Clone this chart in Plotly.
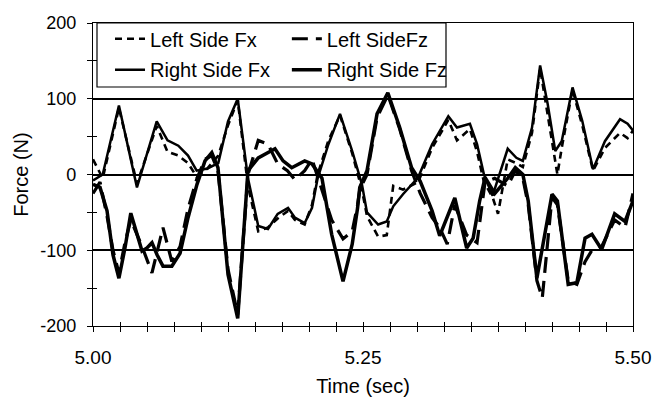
import plotly.graph_objects as go

# ---- data ----
rfx_t = [5.000, 5.009, 5.024, 5.0407, 5.059, 5.069, 5.079, 5.088, 5.096, 5.106, 5.116, 5.125, 5.134,
         5.1435, 5.153, 5.162, 5.171, 5.1806, 5.187, 5.196, 5.2028, 5.208, 5.218, 5.2287, 5.240, 5.249,
         5.2537, 5.264, 5.272, 5.278, 5.287, 5.301, 5.314, 5.329, 5.337, 5.349, 5.3556, 5.362, 5.370,
         5.384, 5.392, 5.398, 5.4065, 5.414, 5.421, 5.428, 5.434, 5.444, 5.453, 5.463, 5.474, 5.488,
         5.495, 5.500]
rfx_v = [-8, 0, 91, -17, 70, 45, 38, 25, 5, 8, 15, 70, 100,
         -5, -68, -72, -52, -44, -57, -64, -44, -5, 40, 80, 31, -13,
         -50, -66, -62, -42, -26, -4, 40, 77, 62, 67, 40, 0, -28,
         34, 22, 18, 62, 144, 93, 31, 44, 115, 71, 7, 44, 73,
         67, 58]

rfz_t = [5.000, 5.0065, 5.013, 5.0185, 5.024, 5.0296, 5.035, 5.0454, 5.050, 5.0546, 5.0593, 5.0648,
         5.073, 5.0806, 5.088, 5.0963, 5.1037, 5.110, 5.1157, 5.125, 5.134, 5.1435, 5.153, 5.1685,
         5.176, 5.184, 5.196, 5.2028, 5.212, 5.221, 5.2315, 5.240, 5.245, 5.247, 5.2537, 5.263, 5.273,
         5.284, 5.295, 5.303, 5.314, 5.321, 5.335, 5.346, 5.352, 5.358, 5.363, 5.372, 5.384, 5.391,
         5.398, 5.403, 5.411, 5.425, 5.430, 5.440, 5.448, 5.4556, 5.462, 5.471, 5.483, 5.4926, 5.500]
rfz_v = [-13, -17, -48, -106, -137, -97, -51, -101, -97, -90, -106, -121,
         -121, -104, -57, -13, 18, 29, 9, -132, -190, 5, 22, 34,
         18, 9, 18, 14, -5, -79, -141, -92, -44, -17, 5, 80, 108,
         62, 9, -9, -48, -81, -31, -97, -84, -35, -4, -25, -5, 9,
         0, -35, -137, -26, -35, -145, -143, -84, -79, -99, -52, -62, -35]

lfx_t = [5.000, 5.009, 5.024, 5.0407, 5.059, 5.069, 5.079, 5.088, 5.096, 5.106, 5.116, 5.125, 5.134,
         5.1435, 5.153, 5.162, 5.171, 5.1806, 5.187, 5.196, 5.2028, 5.208, 5.218, 5.2287, 5.240, 5.249,
         5.2537, 5.264, 5.272, 5.278, 5.287, 5.301, 5.314, 5.329, 5.337, 5.349, 5.3556, 5.362, 5.370,
         5.375, 5.384, 5.392, 5.398, 5.4065, 5.414, 5.421, 5.430, 5.434, 5.444, 5.453, 5.463, 5.474,
         5.488, 5.495, 5.500]
lfx_v = [20, -5, 88, -12, 64, 30, 25, 15, -3, 8, 25, 65, 98,
         -15, -75, -70, -58, -48, -60, -66, -40, 0, 45, 78, 28, -20,
         -55, -82, -80, -15, -20, -10, 35, 72, 45, 60, 30, -10, -30,
         -52, 20, 15, 10, 55, 140, 80, 0, 35, 112, 65, 5, 35,
         55, 48, 58]

lfz_t = [5.000, 5.0065, 5.013, 5.0185, 5.024, 5.0296, 5.035, 5.0454, 5.0546, 5.0648, 5.073, 5.0806,
         5.088, 5.0963, 5.1037, 5.110, 5.1157, 5.125, 5.134, 5.1435, 5.153, 5.162, 5.171, 5.180,
         5.187, 5.196, 5.2028, 5.212, 5.221, 5.2315, 5.240, 5.245, 5.247, 5.2537, 5.263, 5.273,
         5.284, 5.295, 5.303, 5.314, 5.321, 5.328, 5.335, 5.346, 5.3556, 5.363, 5.372, 5.384, 5.391,
         5.398, 5.403, 5.411, 5.416, 5.425, 5.430, 5.440, 5.448, 5.4556, 5.462, 5.471, 5.483,
         5.4926, 5.500]
lfz_v = [-25, -10, -55, -100, -130, -90, -60, -95, -130, -70, -115, -95,
         -45, -5, 20, 25, 5, -125, -185, 0, 45, 40, 14, 5,
         -7, 5, 20, -20, -60, -85, -75, -40, -20, 0, 75, 105,
         60, 5, -25, -57, -70, -92, -40, -80, -90, -10, -5, -15, 5,
         -5, -40, -140, -163, -30, -40, -140, -145, -115, -100, -95, -60,
         -70, -25]

x_tickvals = [5.00, 5.25, 5.50]
x_ticktext = ["5.00", "5.25", "5.50"]
y_tickvals = [-200, -100, 0, 100, 200]
y_ticktext = ["-200", "-100", "0", "100", "200"]

FONT = "Liberation Sans, Arial, sans-serif"

fig = go.Figure()

fig.add_trace(go.Scatter(x=lfx_t, y=lfx_v, mode="lines", name="Left Side Fx",
                         line=dict(color="black", width=2.6, dash="7px,5px"), legend="legend"))
fig.add_trace(go.Scatter(x=lfz_t, y=lfz_v, mode="lines", name="Left SideFz",
                         line=dict(color="black", width=3.2, dash="16px,8px"), legend="legend2"))
fig.add_trace(go.Scatter(x=rfx_t, y=rfx_v, mode="lines", name="Right Side Fx",
                         line=dict(color="black", width=2.5), legend="legend3"))
fig.add_trace(go.Scatter(x=rfz_t, y=rfz_v, mode="lines", name="Right Side Fz",
                         line=dict(color="black", width=3.5), legend="legend4"))
# invisible trace to bring up the overlay axes that draw the inner half of the crossing ticks
fig.add_trace(go.Scatter(x=[None], y=[None], xaxis="x2", yaxis="y2", showlegend=False,
                         hoverinfo="skip", mode="lines"))

leg_common = dict(bgcolor="rgba(0,0,0,0)", borderwidth=0, font=dict(family=FONT, size=20, color="black"),
                  xanchor="left", yanchor="middle", orientation="v")

fig.update_layout(
    width=652, height=397,
    margin=dict(l=93, r=19, t=23, b=71, autoexpand=False),
    paper_bgcolor="white", plot_bgcolor="white",
    font=dict(family=FONT, size=18, color="black"),
    xaxis=dict(range=[5.0, 5.5], tickvals=x_tickvals, ticktext=x_ticktext,
               ticks="outside", ticklen=5, tickwidth=1, tickcolor="black",
               minor=dict(dtick=0.025, tick0=5.0, ticks="outside", ticklen=5, tickwidth=1, tickcolor="black"),
               showline=True, linecolor="black", linewidth=1.2, mirror=True,
               showgrid=False, zeroline=False, automargin=False,
               tickfont=dict(size=19), ticklabelstandoff=9,
               title=dict(text="Time (sec)", font=dict(size=20), standoff=16)),
    yaxis=dict(range=[-200, 200], tickvals=y_tickvals, ticktext=y_ticktext,
               ticks="outside", ticklen=5, tickwidth=1, tickcolor="black",
               minor=dict(dtick=50, tick0=0, ticks="outside", ticklen=5, tickwidth=1, tickcolor="black"),
               showline=True, linecolor="black", linewidth=1.2, mirror=True,
               showgrid=True, gridcolor="black", gridwidth=1.5,
               zeroline=True, zerolinecolor="black", zerolinewidth=1.5, automargin=False,
               tickfont=dict(size=18), ticklabelstandoff=7,
               title=dict(text="Force (N)", font=dict(size=20), standoff=6)),
    xaxis2=dict(range=[5.0, 5.5], overlaying="x", anchor="y", side="bottom",
                tickmode="linear", tick0=5.0, dtick=0.025, ticks="inside", ticklen=4,
                tickwidth=1, tickcolor="black", showticklabels=False,
                showline=False, showgrid=False, zeroline=False),
    yaxis2=dict(range=[-200, 200], overlaying="y", anchor="x", side="left",
                tickmode="linear", tick0=0, dtick=50, ticks="inside", ticklen=4,
                tickwidth=1, tickcolor="black", showticklabels=False,
                showline=False, showgrid=False, zeroline=False),
    legend=dict(x=0.0315, y=0.948, **leg_common),
    legend2=dict(x=0.359, y=0.948, **leg_common),
    legend3=dict(x=0.0315, y=0.846, **leg_common),
    legend4=dict(x=0.359, y=0.846, **leg_common),
    shapes=[dict(type="rect", xref="paper", yref="paper", x0=0.0074, x1=0.6537, y0=0.7888, y1=1.0,
                 line=dict(color="black", width=1.2), fillcolor="white", layer="below")],
)

fig.write_html("out.html")
